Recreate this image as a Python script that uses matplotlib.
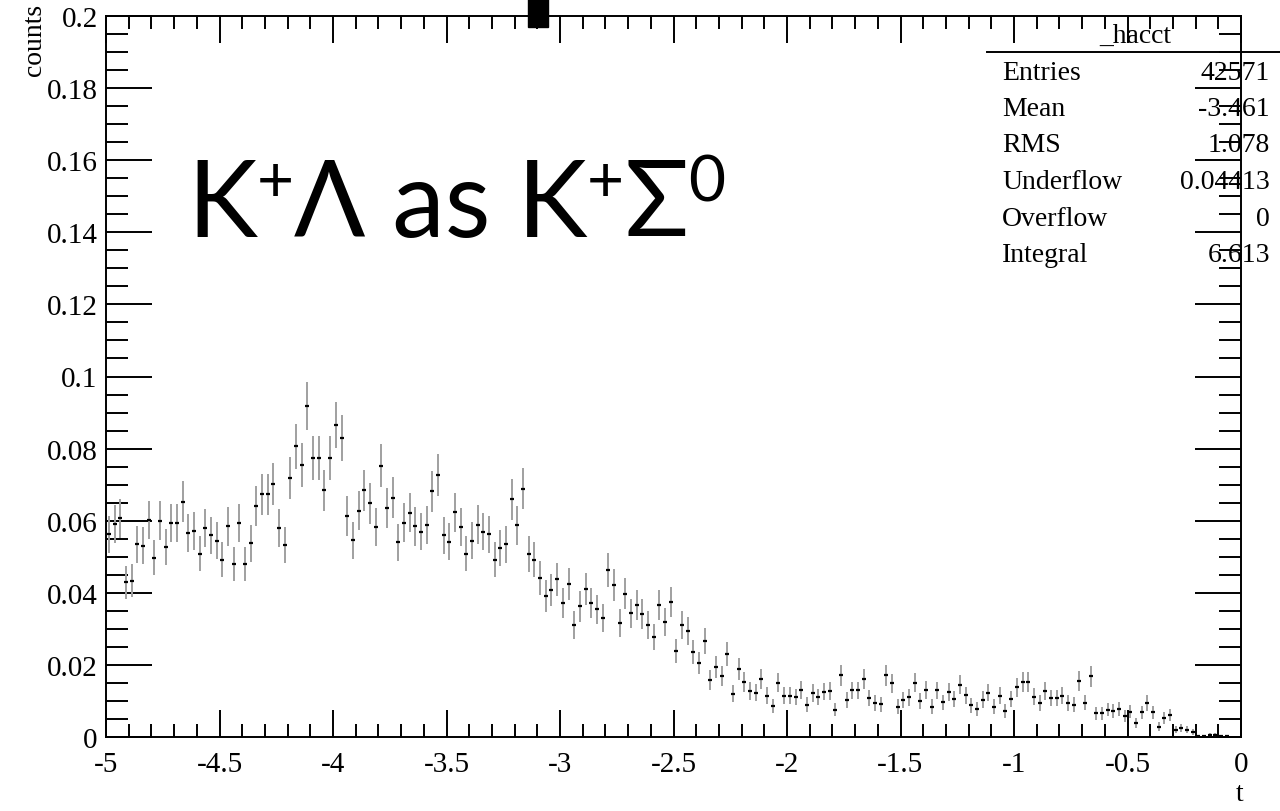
import numpy as np
import matplotlib
matplotlib.use("Agg")
import matplotlib.pyplot as plt
from matplotlib.patches import Rectangle

# _hacct: 200 bins in t from -5 to 0
t_lo, t_hi, n_bins = -5.0, 0.0, 200
counts = np.array([
    0.0562, 0.0590, 0.0607, 0.0429, 0.0433, 0.0534, 0.0531, 0.0602, 0.0497, 0.0600,
    0.0527, 0.0593, 0.0593, 0.0653, 0.0566, 0.0571, 0.0509, 0.0580, 0.0559, 0.0545,
    0.0492, 0.0584, 0.0480, 0.0593, 0.0480, 0.0537, 0.0642, 0.0674, 0.0674, 0.0702,
    0.0579, 0.0532, 0.0719, 0.0806, 0.0755, 0.0918, 0.0773, 0.0774, 0.0684, 0.0773,
    0.0865, 0.0829, 0.0613, 0.0546, 0.0628, 0.0684, 0.0648, 0.0582, 0.0753, 0.0636,
    0.0664, 0.0540, 0.0595, 0.0622, 0.0584, 0.0570, 0.0588, 0.0682, 0.0727, 0.0559,
    0.0542, 0.0623, 0.0582, 0.0509, 0.0545, 0.0589, 0.0570, 0.0562, 0.0491, 0.0524,
    0.0534, 0.0659, 0.0587, 0.0689, 0.0508, 0.0492, 0.0441, 0.0391, 0.0409, 0.0437,
    0.0372, 0.0425, 0.0311, 0.0362, 0.0410, 0.0371, 0.0354, 0.0330, 0.0464, 0.0421,
    0.0315, 0.0398, 0.0343, 0.0366, 0.0341, 0.0310, 0.0277, 0.0366, 0.0318, 0.0375,
    0.0238, 0.0310, 0.0294, 0.0235, 0.0205, 0.0266, 0.0159, 0.0193, 0.0169, 0.0231,
    0.0120, 0.0188, 0.0153, 0.0127, 0.0123, 0.0162, 0.0114, 0.0086, 0.0151, 0.0114,
    0.0114, 0.0111, 0.0131, 0.0090, 0.0122, 0.0111, 0.0126, 0.0128, 0.0076, 0.0171,
    0.0102, 0.0129, 0.0129, 0.0160, 0.0108, 0.0094, 0.0091, 0.0171, 0.0149, 0.0084,
    0.0103, 0.0110, 0.0151, 0.0101, 0.0130, 0.0084, 0.0129, 0.0096, 0.0125, 0.0106,
    0.0145, 0.0116, 0.0088, 0.0077, 0.0104, 0.0123, 0.0084, 0.0115, 0.0072, 0.0105,
    0.0138, 0.0152, 0.0152, 0.0112, 0.0094, 0.0127, 0.0108, 0.0108, 0.0115, 0.0094,
    0.0089, 0.0156, 0.0095, 0.0168, 0.0066, 0.0066, 0.0076, 0.0072, 0.0077, 0.0057,
    0.0070, 0.0038, 0.0068, 0.0094, 0.0068, 0.0029, 0.0053, 0.0060, 0.0020, 0.0026,
    0.0020, 0.0013, 0.0002, 0.0002, 0.0005, 0.0005, 0.0002, 0.0002, 0.0000, 0.0000,
])
# per-entry weight, error = sqrt(sum w^2) ~ sqrt(w * content)
evt_weight = 0.00048

stats_names = ["Entries", "Mean", "RMS", "Underflow", "Overflow", "Integral"]
stats_values = ["42571", "-3.461", "1.078", "0.04413", "0", "6.613"]

# channel label, (text, is_superscript)
label_parts = [("K", False), ("+", True), ("Λ as K", False), ("+", True),
               ("Σ", False), ("0", True)]

edges = np.linspace(t_lo, t_hi, n_bins + 1)
centers = 0.5 * (edges[:-1] + edges[1:])
filled = counts > 0
errs = np.sqrt(evt_weight * counts)

plt.rcParams['axes.unicode_minus'] = False
serif = 'Liberation Serif'
sans = ['Lato', 'Noto Sans', 'DejaVu Sans']

fig = plt.figure(figsize=(12.8, 8.12), dpi=100)
ax = fig.add_axes([106 / 1280, 1 - 738 / 812, 1135 / 1280, 721 / 812])

ax.errorbar(centers[filled], counts[filled], yerr=errs[filled], fmt='none',
            ecolor='#a0a0a0', elinewidth=1.4, capsize=0, zorder=2)
ax.plot(centers[filled], counts[filled], ls='none', marker='_', color='k',
        ms=3.5, mew=1.6, zorder=3)

ax.set_xlim(t_lo, t_hi)
ax.set_ylim(0, 0.2)
ax.set_xticks(np.arange(-5, 0.01, 0.5))
ax.set_xticks(np.arange(-5, 0.01, 0.1), minor=True)
ax.set_yticks(np.arange(0, 0.201, 0.02))
ax.set_yticks(np.arange(0, 0.201, 0.005), minor=True)
ax.xaxis.set_major_formatter(plt.FormatStrFormatter('%g'))
ax.yaxis.set_major_formatter(plt.FuncFormatter(lambda v, p: '%g' % round(v, 3)))

for s in ax.spines.values():
    s.set_linewidth(1.4)
ax.tick_params(which='both', direction='in', top=True, right=True, width=1.4,
               labelsize=21)
ax.tick_params(axis='y', which='major', length=33, pad=6)
ax.tick_params(axis='y', which='minor', length=16)
ax.tick_params(axis='x', which='major', length=19.5, pad=10)
ax.tick_params(axis='x', which='minor', length=9.7)
for lab in ax.get_xticklabels() + ax.get_yticklabels():
    lab.set_fontfamily(serif)

fig.text(35 / 1280, 1 - 4 / 812, 'counts', rotation=90, ha='center', va='top',
         fontsize=20, family=serif)
fig.text(1240 / 1280, 1 - 795 / 812, 't', ha='center', va='center',
         fontsize=20, family=serif)

# big channel label, laid out piece by piece in pixels
renderer = fig.canvas.get_renderer()
x_px, base_px = 187.0, 812 - 237.0
big_fs, sup_fs, sup_raise = 76, 46, 35
for txt, sup in label_parts:
    y_px = base_px + (sup_raise if sup else 0)
    t = fig.text(x_px / 1280, y_px / 812, txt, fontsize=sup_fs if sup else big_fs,
                 family=sans, ha='left', va='baseline')
    x_px = t.get_window_extent(renderer).x1

# stats box
fig.text(1135 / 1280, 1 - 36 / 812, '_hacct', ha='center', va='center',
         fontsize=20, family=serif)
fig.add_artist(plt.Line2D([987 / 1280, 1], [1 - 53 / 812, 1 - 53 / 812],
                          color='k', lw=1.4, transform=fig.transFigure))
for k, (name, val) in enumerate(zip(stats_names, stats_values)):
    yy = 1 - (73 + 36.5 * k) / 812
    fig.text(1002 / 1280, yy, name, ha='left', va='center', fontsize=20, family=serif)
    fig.text(1270 / 1280, yy, val, ha='right', va='center', fontsize=20, family=serif)

fig.add_artist(Rectangle((528 / 1280, 1 - 28 / 812), 20 / 1280, 28 / 812,
                         color='k', transform=fig.transFigure))

fig.savefig('out.png', dpi=100)
